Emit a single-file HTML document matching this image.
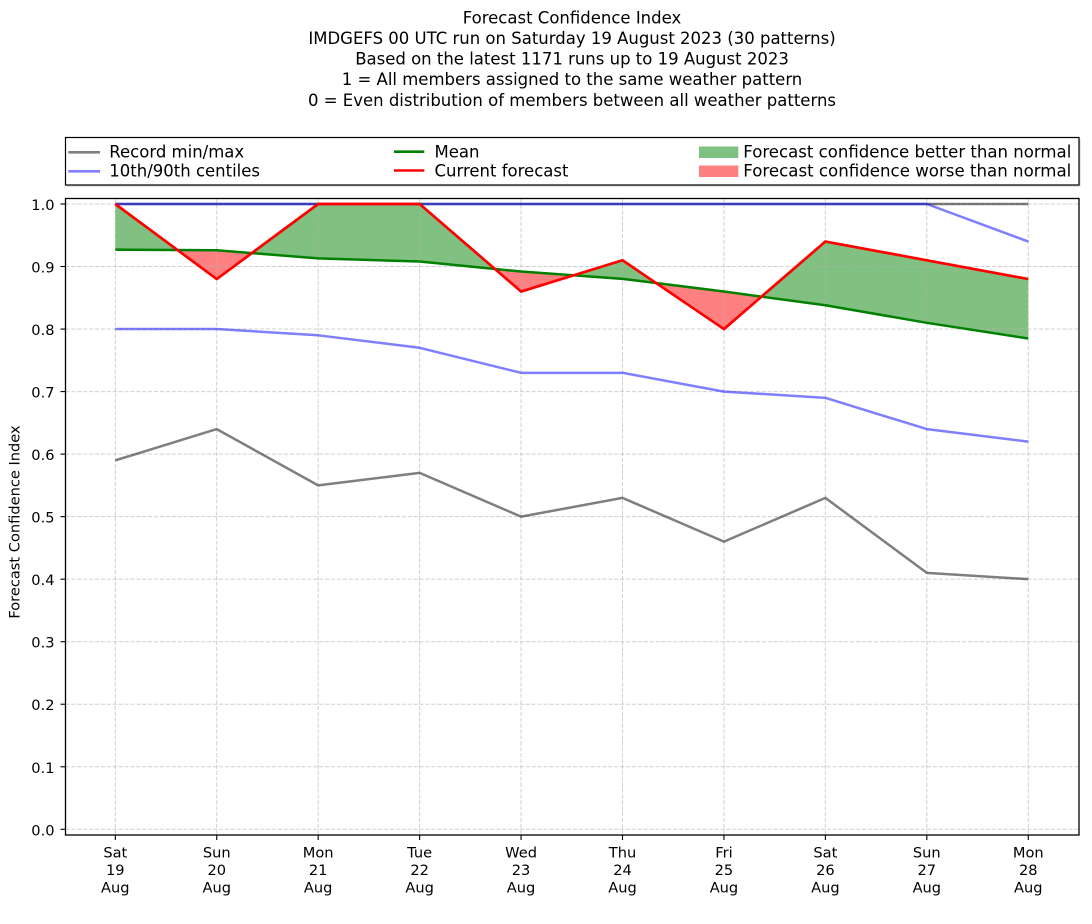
<!DOCTYPE html>
<html><head><meta charset="utf-8"><style>
html,body{margin:0;padding:0;background:#fff;}
svg{display:block;}
text{font-family:"DejaVu Sans","Liberation Sans",sans-serif;fill:#000;}
</style></head><body>
<svg width="1092" height="924" viewBox="0 0 1092 924" xmlns="http://www.w3.org/2000/svg">
<rect width="1092" height="924" fill="#fff"/>
<!-- Title -->
<g font-size="16.5" text-anchor="middle">
<text x="572" y="23.3">Forecast Confidence Index</text>
<text x="572" y="44">IMDGEFS 00 UTC run on Saturday 19 August 2023 (30 patterns)</text>
<text x="572" y="64.5">Based on the latest 1171 runs up to 19 August 2023</text>
<text x="572" y="85.2">1 = All members assigned to the same weather pattern</text>
<text x="572" y="105.8">0 = Even distribution of members between all weather patterns</text>
</g>
<!-- Legend -->
<rect x="67" y="139" width="1013.5" height="47.5" fill="#999" opacity="0.5"/>
<rect x="65.5" y="137.5" width="1013.5" height="47.5" fill="#fff" stroke="#000" stroke-width="1.2"/>
<line x1="68.3" y1="152.3" x2="100" y2="152.3" stroke="#808080" stroke-width="2.6"/>
<line x1="68.3" y1="171.3" x2="100" y2="171.3" stroke="#8080ff" stroke-width="2.6"/>
<line x1="394" y1="151.7" x2="424.3" y2="151.7" stroke="#008000" stroke-width="2.6"/>
<line x1="394" y1="170.5" x2="424.3" y2="170.5" stroke="#ff0000" stroke-width="2.6"/>
<rect x="699" y="146.5" width="39.3" height="11.5" fill="#80c080"/>
<rect x="699" y="165.5" width="39.3" height="11.5" fill="#ff8080"/>
<g font-size="16.5">
<text x="109.3" y="157.6">Record min/max</text>
<text x="109.3" y="176.6">10th/90th centiles</text>
<text x="434.5" y="157.6">Mean</text>
<text x="434.5" y="176.6">Current forecast</text>
<text x="743.3" y="157.6" textLength="328" lengthAdjust="spacingAndGlyphs">Forecast confidence better than normal</text>
<text x="743.3" y="176.6" textLength="328" lengthAdjust="spacingAndGlyphs">Forecast confidence worse than normal</text>
</g>
<!-- Fills -->
<g fill="#80c080" stroke="none">
<polygon points="115.3,204 177.53,250.03 115.3,249.65"/>
<polygon points="251.82,253.08 318.18,204 419.62,204 494.88,268.95 419.62,261.53 318.18,258.4"/>
<polygon points="573.42,275.40 622.5,260.27 656.31,283.20 622.5,278.84"/>
<polygon points="761.51,296.64 825.38,241.52 926.82,260.27 1028.26,279.04 1028.26,338.47 926.82,322.81 825.38,305.29"/>
</g>
<g fill="#ff8080" stroke="none">
<polygon points="177.53,250.03 216.74,250.27 251.82,253.08 216.74,279.04"/>
<polygon points="494.88,268.95 521.06,291.54 573.42,275.40 521.06,271.53"/>
<polygon points="656.31,283.20 723.94,329.06 761.51,296.64 723.94,291.54"/>
</g>
<!-- Grid -->
<g stroke="#b0b0b0" stroke-opacity="0.6" stroke-width="1" stroke-dasharray="4.1,1.8">
<line x1="115.3" y1="198.5" x2="115.3" y2="835"/>
<line x1="216.74" y1="198.5" x2="216.74" y2="835"/>
<line x1="318.18" y1="198.5" x2="318.18" y2="835"/>
<line x1="419.62" y1="198.5" x2="419.62" y2="835"/>
<line x1="521.06" y1="198.5" x2="521.06" y2="835"/>
<line x1="622.5" y1="198.5" x2="622.5" y2="835"/>
<line x1="723.94" y1="198.5" x2="723.94" y2="835"/>
<line x1="825.38" y1="198.5" x2="825.38" y2="835"/>
<line x1="926.82" y1="198.5" x2="926.82" y2="835"/>
<line x1="1028.26" y1="198.5" x2="1028.26" y2="835"/>
<line x1="65.5" y1="204" x2="1079" y2="204"/>
<line x1="65.5" y1="266.53" x2="1079" y2="266.53"/>
<line x1="65.5" y1="329.06" x2="1079" y2="329.06"/>
<line x1="65.5" y1="391.59" x2="1079" y2="391.59"/>
<line x1="65.5" y1="454.12" x2="1079" y2="454.12"/>
<line x1="65.5" y1="516.65" x2="1079" y2="516.65"/>
<line x1="65.5" y1="579.18" x2="1079" y2="579.18"/>
<line x1="65.5" y1="641.71" x2="1079" y2="641.71"/>
<line x1="65.5" y1="704.24" x2="1079" y2="704.24"/>
<line x1="65.5" y1="766.77" x2="1079" y2="766.77"/>
<line x1="65.5" y1="829.3" x2="1079" y2="829.3"/>
</g>
<!-- Lines -->
<g fill="none" stroke-width="2.5" stroke-linejoin="round" stroke-linecap="butt">
<polyline stroke="#000" stroke-opacity="0.5" points="115.3,204 1028.26,204"/>
<polyline stroke="#000" stroke-opacity="0.5" points="115.3,460.37 216.74,429.11 318.18,485.39 419.62,472.88 521.06,516.65 622.5,497.89 723.94,541.66 825.38,497.89 926.82,572.93 1028.26,579.18"/>
<polyline stroke="#0000ff" stroke-opacity="0.5" points="115.3,204 216.74,204 318.18,204 419.62,204 521.06,204 622.5,204 723.94,204 825.38,204 926.82,204 1028.26,241.52"/>
<polyline stroke="#0000ff" stroke-opacity="0.5" points="115.3,329.06 216.74,329.06 318.18,335.31 419.62,347.80 521.06,372.83 622.5,372.83 723.94,391.59 825.38,397.84 926.82,429.11 1028.26,441.61"/>
<polyline stroke="#008000" points="115.3,249.65 216.74,250.27 318.18,258.4 419.62,261.53 521.06,271.53 622.5,278.84 723.94,291.54 825.38,305.29 926.82,322.81 1028.26,338.47"/>
<polyline stroke="#ff0000" stroke-width="2.7" points="115.3,204 216.74,279.04 318.18,204 419.62,204 521.06,291.54 622.5,260.27 723.94,329.06 825.38,241.52 926.82,260.27 1028.26,279.04"/>
</g>
<!-- Axes frame -->
<rect x="65.5" y="198.5" width="1013.5" height="636.5" fill="none" stroke="#000" stroke-width="1.3"/>
<!-- Ticks -->
<g stroke="#000" stroke-width="1.1">
<line x1="60.5" y1="204" x2="65.5" y2="204"/>
<line x1="60.5" y1="266.53" x2="65.5" y2="266.53"/>
<line x1="60.5" y1="329.06" x2="65.5" y2="329.06"/>
<line x1="60.5" y1="391.59" x2="65.5" y2="391.59"/>
<line x1="60.5" y1="454.12" x2="65.5" y2="454.12"/>
<line x1="60.5" y1="516.65" x2="65.5" y2="516.65"/>
<line x1="60.5" y1="579.18" x2="65.5" y2="579.18"/>
<line x1="60.5" y1="641.71" x2="65.5" y2="641.71"/>
<line x1="60.5" y1="704.24" x2="65.5" y2="704.24"/>
<line x1="60.5" y1="766.77" x2="65.5" y2="766.77"/>
<line x1="60.5" y1="829.3" x2="65.5" y2="829.3"/>
<line x1="115.3" y1="835" x2="115.3" y2="840"/>
<line x1="216.74" y1="835" x2="216.74" y2="840"/>
<line x1="318.18" y1="835" x2="318.18" y2="840"/>
<line x1="419.62" y1="835" x2="419.62" y2="840"/>
<line x1="521.06" y1="835" x2="521.06" y2="840"/>
<line x1="622.5" y1="835" x2="622.5" y2="840"/>
<line x1="723.94" y1="835" x2="723.94" y2="840"/>
<line x1="825.38" y1="835" x2="825.38" y2="840"/>
<line x1="926.82" y1="835" x2="926.82" y2="840"/>
<line x1="1028.26" y1="835" x2="1028.26" y2="840"/>
</g>
<g font-size="14.6" text-anchor="end">
<text x="54.5" y="210">1.0</text>
<text x="54.5" y="272.5">0.9</text>
<text x="54.5" y="335">0.8</text>
<text x="54.5" y="397.6">0.7</text>
<text x="54.5" y="460.1">0.6</text>
<text x="54.5" y="522.6">0.5</text>
<text x="54.5" y="585.2">0.4</text>
<text x="54.5" y="647.7">0.3</text>
<text x="54.5" y="710.2">0.2</text>
<text x="54.5" y="772.8">0.1</text>
<text x="54.5" y="835.3">0.0</text>
</g>
<g font-size="14.6" text-anchor="middle">
<text x="115.3" y="857.3">Sat</text><text x="115.3" y="875">19</text><text x="115.3" y="892.5">Aug</text>
<text x="216.74" y="857.3">Sun</text><text x="216.74" y="875">20</text><text x="216.74" y="892.5">Aug</text>
<text x="318.18" y="857.3">Mon</text><text x="318.18" y="875">21</text><text x="318.18" y="892.5">Aug</text>
<text x="419.62" y="857.3">Tue</text><text x="419.62" y="875">22</text><text x="419.62" y="892.5">Aug</text>
<text x="521.06" y="857.3">Wed</text><text x="521.06" y="875">23</text><text x="521.06" y="892.5">Aug</text>
<text x="622.5" y="857.3">Thu</text><text x="622.5" y="875">24</text><text x="622.5" y="892.5">Aug</text>
<text x="723.94" y="857.3">Fri</text><text x="723.94" y="875">25</text><text x="723.94" y="892.5">Aug</text>
<text x="825.38" y="857.3">Sat</text><text x="825.38" y="875">26</text><text x="825.38" y="892.5">Aug</text>
<text x="926.82" y="857.3">Sun</text><text x="926.82" y="875">27</text><text x="926.82" y="892.5">Aug</text>
<text x="1028.26" y="857.3">Mon</text><text x="1028.26" y="875">28</text><text x="1028.26" y="892.5">Aug</text>
</g>
<text transform="translate(19.3,522) rotate(-90)" font-size="14.6" text-anchor="middle">Forecast Confidence Index</text>
</svg>
</body></html>
